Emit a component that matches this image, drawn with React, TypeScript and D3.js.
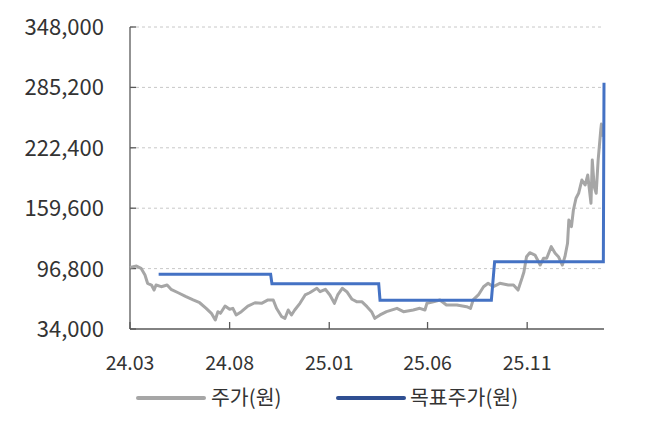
import React from 'react';
import * as d3 from 'd3';

const priceDates = [
  '2024-03-01', '2024-03-11', '2024-03-18', '2024-03-24', '2024-03-28', '2024-04-03', '2024-04-07', '2024-04-10',
  '2024-04-18', '2024-04-27', '2024-05-03', '2024-05-14', '2024-05-26', '2024-06-06', '2024-06-16', '2024-06-26',
  '2024-07-04', '2024-07-10', '2024-07-14', '2024-07-18', '2024-07-25', '2024-08-01', '2024-08-06', '2024-08-11',
  '2024-08-19', '2024-08-29', '2024-09-09', '2024-09-19', '2024-09-29', '2024-10-07', '2024-10-12', '2024-10-20',
  '2024-10-25', '2024-10-30', '2024-11-04', '2024-11-09', '2024-11-17', '2024-11-25', '2024-12-02', '2024-12-13',
  '2024-12-18', '2024-12-26', '2025-01-02', '2025-01-09', '2025-01-14', '2025-01-21', '2025-01-28', '2025-02-05',
  '2025-02-12', '2025-02-20', '2025-02-28', '2025-03-07', '2025-03-12', '2025-03-20', '2025-03-30', '2025-04-15',
  '2025-04-25', '2025-05-10', '2025-05-20', '2025-05-28', '2025-05-31', '2025-06-10', '2025-06-20', '2025-06-30',
  '2025-07-16', '2025-07-31', '2025-08-06', '2025-08-10', '2025-08-18', '2025-08-26', '2025-09-02', '2025-09-10',
  '2025-09-20', '2025-10-03', '2025-10-11', '2025-10-18', '2025-10-24', '2025-10-27', '2025-10-31', '2025-11-05',
  '2025-11-13', '2025-11-21', '2025-11-26', '2025-12-01', '2025-12-08', '2025-12-14', '2025-12-19', '2025-12-25',
  '2025-12-29', '2026-01-02', '2026-01-04', '2026-01-08', '2026-01-11', '2026-01-15', '2026-01-19', '2026-01-24',
  '2026-01-29', '2026-02-02', '2026-02-07', '2026-02-09', '2026-02-12', '2026-02-15', '2026-02-18', '2026-02-22',
  '2026-02-23', '2026-02-26',
];

const priceValues = [
  98100, 99500, 97100, 90100, 81500, 79700, 74500, 79700,
  78000, 79700, 75300, 71700, 67600, 64200, 61300, 55500,
  50300, 43400, 52000, 50300, 57900, 54500, 55500, 48600,
  52000, 57900, 61300, 60700, 64200, 64200, 55500, 46800,
  45100, 53800, 48600, 53800, 60700, 69400, 71700, 76300,
  72800, 75300, 69400, 60700, 69400, 76300, 72800, 64900,
  62400, 62400, 57200, 52000, 45100, 48600, 52000, 55500,
  52000, 53800, 55500, 53800, 60700, 62400, 64200, 59000,
  59000, 57200, 55500, 64200, 69400, 78000, 81500, 78000,
  81500, 79700, 79700, 74500, 86700, 93300, 109200, 113300,
  110900, 100500, 107500, 107500, 119600, 112700, 109200, 100500,
  109200, 123100, 147300, 140400, 157700, 169900, 175100, 188900,
  183700, 194100, 164700, 209700, 181900, 175100, 209700, 240900,
  247100, 233900,
];

const targetDates = [
  '2024-04-14', '2024-10-03', '2024-10-05', '2025-03-18', '2025-03-20',
  '2025-09-07', '2025-09-12', '2026-02-26', '2026-02-27',
];
const targetValues = [91000, 91000, 81000, 81000, 64000, 64000, 104000, 104000, 290000];

const yTicks = [34000, 96800, 159600, 222400, 285200, 348000];
const xTickDates = ['2024-03-01', '2024-08-01', '2025-01-01', '2025-06-01', '2025-11-01'];
const xDomain = ['2024-03-01', '2026-02-27'];

const seriesNames = ['주가(원)', '목표주가(원)'];

const W = 651;
const H = 425;
const margin = { top: 27, right: 47, bottom: 96, left: 130 };
const FONT = '"Noto Sans CJK KR", "Noto Sans", sans-serif';

const parse = d3.timeParse('%Y-%m-%d');
type Pt = { date: Date; value: number };

export default function App() {
  const innerW = W - margin.left - margin.right;
  const innerH = H - margin.top - margin.bottom;

  const x = d3.scaleTime()
    .domain(xDomain.map(d => parse(d) as Date))
    .range([margin.left, margin.left + innerW]);
  const y = d3.scaleLinear()
    .domain([yTicks[0], yTicks[yTicks.length - 1]])
    .range([margin.top + innerH, margin.top]);

  const price: Pt[] = priceDates.map((d, i) => ({ date: parse(d) as Date, value: priceValues[i] }));
  const target: Pt[] = targetDates.map((d, i) => ({ date: parse(d) as Date, value: targetValues[i] }));

  const line = d3.line<Pt>().x(d => x(d.date)).y(d => y(d.value));
  const fmt = d3.format(',');
  const tfmt = d3.timeFormat('%y.%m');

  const x0 = margin.left;
  const x1 = margin.left + innerW;
  const yb = margin.top + innerH;

  return (
    <svg width={W} height={H} style={{ position: 'absolute', left: 0, top: 0, background: '#fff' }} fontFamily={FONT}>
      {/* gridlines */}
      {yTicks.slice(1).map(t => (
        <line key={'g' + t} x1={x0} x2={x1} y1={y(t)} y2={y(t)}
          stroke="#c8c8c8" strokeWidth={1} strokeDasharray="3,3" />
      ))}

      {/* y axis */}
      <line x1={x0} x2={x0} y1={margin.top} y2={yb} stroke="#595959" strokeWidth={1.3} />
      {yTicks.map(t => (
        <g key={'y' + t}>
          <line x1={x0} x2={x0 + 6} y1={y(t)} y2={y(t)} stroke="#595959" strokeWidth={1.3} />
          <text x={104} y={y(t)} dy="0.36em" textAnchor="end" fontSize={22} fill="#333">{fmt(t)}</text>
        </g>
      ))}

      {/* x axis */}
      <line x1={x0} x2={x1} y1={yb} y2={yb} stroke="#595959" strokeWidth={1.3} />
      {xTickDates.map(d => {
        const dt = parse(d) as Date;
        return (
          <g key={'x' + d}>
            <line x1={x(dt)} x2={x(dt)} y1={yb} y2={yb - 7} stroke="#595959" strokeWidth={1.3} />
            <text x={x(dt)} y={363} dy="0.36em" textAnchor="middle" fontSize={19.5} fill="#333">{tfmt(dt)}</text>
          </g>
        );
      })}

      {/* series */}
      <path d={line(price) ?? ''} fill="none" stroke="#a6a6a6" strokeWidth={3} strokeLinejoin="round" />
      <path d={line(target) ?? ''} fill="none" stroke="#4472c4" strokeWidth={3} strokeLinejoin="miter" />

      {/* legend */}
      <g>
        <line x1={138} x2={204} y1={398} y2={398} stroke="#a6a6a6" strokeWidth={4} strokeLinecap="round" />
        <text x={211} y={398} dy="0.36em" fontSize={20.5} fill="#333">{seriesNames[0]}</text>
        <line x1={338} x2={404} y1={398} y2={398} stroke="#2f4f92" strokeWidth={4} strokeLinecap="round" />
        <text x={410} y={398} dy="0.36em" fontSize={20.5} fill="#333">{seriesNames[1]}</text>
      </g>
    </svg>
  );
}
